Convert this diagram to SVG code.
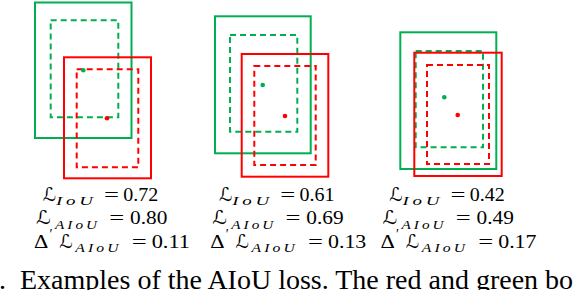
<svg xmlns="http://www.w3.org/2000/svg" width="576" height="290" viewBox="0 0 576 290">
<style>
.gs{fill:none;stroke:#00B050;stroke-width:2}
.gd{fill:none;stroke:#00B050;stroke-width:2;stroke-dasharray:6 4}
.rs{fill:none;stroke:#FF0000;stroke-width:2}
.rd{fill:none;stroke:#FF0000;stroke-width:2;stroke-dasharray:6 4}
.gdot{fill:#00B050}
.rdot{fill:#FF0000}
.L{font-family:'DejaVu Serif','DejaVu Sans',serif;font-size:19px;fill:#000}
.m{font-family:'Liberation Serif',serif;font-size:18px;fill:#000}
.s{font-family:'Liberation Serif',serif;font-style:italic;font-size:12.5px;letter-spacing:2.5px;fill:#000}
.p{font-family:'Liberation Serif',serif;font-size:14px;fill:#000}
.cap{font-family:'Liberation Serif','Times New Roman',serif;font-size:28px;fill:#000}
</style>
<defs>
<g id="lab1">
<text class="L" x="42.7" y="201" textLength="13.3" lengthAdjust="spacingAndGlyphs">ℒ</text>
<text class="s" x="56" y="205" textLength="40.7" lengthAdjust="spacingAndGlyphs">IoU</text>
<text class="m" x="104" y="201" textLength="15" lengthAdjust="spacingAndGlyphs">=</text>
</g>
<g id="lab2">
<text class="L" x="36" y="224" textLength="14.7" lengthAdjust="spacingAndGlyphs">ℒ</text>
<text class="s" x="55" y="228.5" textLength="45" lengthAdjust="spacingAndGlyphs">AIoU</text>
<text class="m" x="109.3" y="224" textLength="15" lengthAdjust="spacingAndGlyphs">=</text>
</g>
<g id="lab3">
<text class="m" x="34" y="247.5" textLength="14.3" lengthAdjust="spacingAndGlyphs">Δ</text>
<text class="p" x="49.5" y="239">′</text>
<text class="L" x="59.3" y="247.5" textLength="13.4" lengthAdjust="spacingAndGlyphs">ℒ</text>
<text class="s" x="75.3" y="251.5" textLength="46.4" lengthAdjust="spacingAndGlyphs">AIoU</text>
<text class="m" x="131.7" y="247.5" textLength="15" lengthAdjust="spacingAndGlyphs">=</text>
</g>
</defs>

<g id="example1">
<rect class="gs" x="35" y="2.5" width="96.5" height="135.5"/>
<rect class="gd" x="50.7" y="20.3" width="67.6" height="97"/>
<rect class="rs" x="64" y="57.3" width="87" height="121"/>
<rect class="rd" x="76.7" y="69.3" width="61.6" height="98"/>
<circle class="gdot" cx="83.3" cy="70.3" r="2.3"/>
<circle class="rdot" cx="107" cy="118.3" r="2.3"/>
<g id="example1-labels">
<use href="#lab1"/>
<text class="m" x="123.3" y="201" textLength="35" lengthAdjust="spacingAndGlyphs">0.72</text>
<use href="#lab2"/>
<text class="m" x="130" y="224" textLength="37.3" lengthAdjust="spacingAndGlyphs">0.80</text>
<use href="#lab3"/>
<text class="m" x="151.7" y="247.5" textLength="38.3" lengthAdjust="spacingAndGlyphs">0.11</text>
</g>
</g>

<g id="example2">
<rect class="gs" x="215" y="16.3" width="95.7" height="137"/>
<rect class="gd" x="230" y="35" width="67.3" height="96.7"/>
<rect class="rs" x="241.7" y="54" width="86.6" height="122.7"/>
<rect class="rd" x="254.3" y="66" width="61.4" height="99"/>
<circle class="gdot" cx="262.7" cy="85" r="2.3"/>
<circle class="rdot" cx="285" cy="116" r="2.3"/>
<g id="example2-labels" transform="translate(176.3,0)">
<use href="#lab1"/>
<text class="m" x="123.3" y="201" textLength="35" lengthAdjust="spacingAndGlyphs">0.61</text>
<use href="#lab2"/>
<text class="m" x="130" y="224" textLength="37.3" lengthAdjust="spacingAndGlyphs">0.69</text>
<use href="#lab3"/>
<text class="m" x="151.7" y="247.5" textLength="38.3" lengthAdjust="spacingAndGlyphs">0.13</text>
</g>
</g>

<g id="example3">
<rect class="gs" x="400.3" y="32.3" width="96" height="136.7"/>
<rect class="gd" x="415.7" y="51" width="67.3" height="96.3"/>
<rect class="rs" x="414.3" y="52.7" width="87.4" height="123.3"/>
<rect class="rd" x="427" y="65" width="62" height="99"/>
<circle class="gdot" cx="444.3" cy="97.3" r="2.3"/>
<circle class="rdot" cx="457.7" cy="115" r="2.3"/>
<g id="example3-labels" transform="translate(346.5,0)">
<use href="#lab1"/>
<text class="m" x="123.3" y="201" textLength="35" lengthAdjust="spacingAndGlyphs">0.42</text>
<use href="#lab2"/>
<text class="m" x="130" y="224" textLength="37.3" lengthAdjust="spacingAndGlyphs">0.49</text>
<use href="#lab3"/>
<text class="m" x="151.7" y="247.5" textLength="38.3" lengthAdjust="spacingAndGlyphs">0.17</text>
</g>
</g>

<g id="caption">
<text class="cap" x="-1" y="288.5">.</text>
<text class="cap" x="20" y="288.5">Examples of the AIoU loss. The red and green bo</text>
</g>
</svg>
